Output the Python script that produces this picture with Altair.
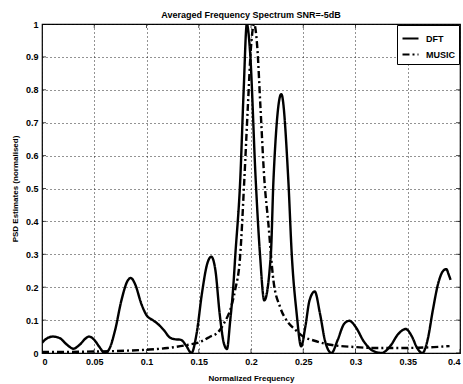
import altair as alt
import pandas as pd

# DFT curve (normalised PSD)
dft_f = [0.000, 0.005, 0.0105, 0.017, 0.024, 0.030, 0.036, 0.042, 0.045, 0.050,
         0.055, 0.060, 0.064, 0.070, 0.076, 0.082, 0.085, 0.089, 0.095, 0.100,
         0.106, 0.111, 0.117, 0.122, 0.127, 0.133, 0.138, 0.143, 0.148, 0.153,
         0.158, 0.162, 0.166, 0.170, 0.174, 0.177, 0.180, 0.183, 0.185, 0.1897,
         0.193, 0.196, 0.199, 0.2045, 0.2086, 0.2127, 0.219, 0.2215, 0.229, 0.2357,
         0.239, 0.2437, 0.248, 0.252, 0.256, 0.261, 0.266, 0.271, 0.277, 0.283,
         0.289, 0.294, 0.300, 0.308, 0.316, 0.325, 0.333, 0.341, 0.348, 0.354,
         0.359, 0.364, 0.369, 0.374, 0.379, 0.384, 0.387, 0.389, 0.391]
dft_v = [0.031, 0.045, 0.050, 0.045, 0.025, 0.013, 0.025, 0.045, 0.050, 0.040,
         0.018, 0.000, 0.010, 0.070, 0.160, 0.220, 0.228, 0.210, 0.150, 0.115,
         0.100, 0.088, 0.068, 0.048, 0.042, 0.040, 0.022, 0.000, 0.060, 0.180,
         0.270, 0.293, 0.250, 0.120, 0.030, 0.012, 0.095, 0.200, 0.298, 0.526,
         0.800, 1.000, 0.920, 0.526, 0.300, 0.160, 0.300, 0.526, 0.787, 0.526,
         0.300, 0.120, 0.020, 0.080, 0.160, 0.187, 0.120, 0.035, 0.000, 0.040,
         0.088, 0.098, 0.080, 0.035, 0.008, 0.000, 0.020, 0.058, 0.073, 0.050,
         0.015, 0.000, 0.040, 0.130, 0.210, 0.250, 0.255, 0.240, 0.222]

# MUSIC pseudo-spectrum (normalised)
music_f = [0.000, 0.040, 0.080, 0.100, 0.120, 0.140, 0.150, 0.160, 0.169, 0.175,
           0.180, 0.1847, 0.1895, 0.1936, 0.197, 0.200, 0.203, 0.206, 0.209, 0.2128,
           0.2166, 0.2214, 0.2278, 0.235, 0.242, 0.250, 0.260, 0.276, 0.300, 0.320,
           0.340, 0.360, 0.375, 0.390]
music_v = [0.003, 0.004, 0.007, 0.010, 0.015, 0.025, 0.032, 0.048, 0.065, 0.095,
           0.130, 0.190, 0.290, 0.526, 0.750, 0.930, 1.000, 0.930, 0.750, 0.526,
           0.394, 0.222, 0.140, 0.095, 0.072, 0.050, 0.038, 0.025, 0.018, 0.015,
           0.015, 0.016, 0.018, 0.021]

x_ticks = [0, 0.05, 0.1, 0.15, 0.2, 0.25, 0.3, 0.35, 0.4]
y_ticks = [0, 0.1, 0.2, 0.3, 0.4, 0.5, 0.6, 0.7, 0.8, 0.9, 1]
series = ["DFT", "MUSIC"]

df = pd.concat([
    pd.DataFrame({"f": dft_f, "v": dft_v, "s": "DFT", "o": range(len(dft_f))}),
    pd.DataFrame({"f": music_f, "v": music_v, "s": "MUSIC", "o": range(len(music_f))}),
])

FONT = "Liberation Sans"
W, H = 418, 329

xscale = alt.Scale(domain=[0, 0.4], nice=False, zero=False)
yscale = alt.Scale(domain=[0, 1], nice=False)

x_axis = alt.Axis(values=x_ticks, format="~g", title="Normalized Frequency",
                  grid=True, tickSize=0, labelPadding=4, titlePadding=8,
                  labelOverlap=False)
y_axis = alt.Axis(values=y_ticks, format="~g", title="PSD Estimates (normalised)",
                  grid=True, tickSize=0, labelPadding=4, titlePadding=6,
                  labelOverlap=False)

lines = alt.Chart(df).mark_line(strokeWidth=2.4, interpolate="monotone", clip=True).encode(
    x=alt.X("f:Q", scale=xscale, axis=x_axis),
    y=alt.Y("v:Q", scale=yscale, axis=y_axis),
    color=alt.Color("s:N", scale=alt.Scale(domain=series, range=["black", "black"]),
                    legend=alt.Legend(title=None, orient="top-right", offset=1,
                                      strokeColor="black", fillColor="white",
                                      padding=4, symbolType="stroke", symbolSize=256,
                                      symbolStrokeWidth=2.2, labelFontSize=9,
                                      labelFont=FONT, labelFontWeight="bold",
                                      rowPadding=1, cornerRadius=0, labelOffset=6)),
    strokeDash=alt.StrokeDash("s:N", scale=alt.Scale(domain=series, range=[[1, 0], [7, 3, 2, 3]]),
                              legend=alt.Legend(title=None)),
    order="o:Q",
)

xt = pd.DataFrame({"t": x_ticks})
yt = pd.DataFrame({"t": y_ticks})
tick_x_bot = alt.Chart(xt).mark_tick(color="black", size=8, thickness=1, clip=True).encode(
    x=alt.X("t:Q", scale=xscale, axis=x_axis), y=alt.value(H))
tick_x_top = alt.Chart(xt).mark_tick(color="black", size=8, thickness=1, clip=True).encode(
    x=alt.X("t:Q", scale=xscale, axis=x_axis), y=alt.value(0))
tick_y_left = alt.Chart(yt).mark_tick(color="black", size=8, thickness=1, clip=True).encode(
    y=alt.Y("t:Q", scale=yscale, axis=y_axis), x=alt.value(0))
tick_y_right = alt.Chart(yt).mark_tick(color="black", size=8, thickness=1, clip=True).encode(
    y=alt.Y("t:Q", scale=yscale, axis=y_axis), x=alt.value(W))

chart = alt.layer(lines, tick_x_bot, tick_x_top, tick_y_left, tick_y_right).properties(
    width=W, height=H,
    background="white",
    autosize=alt.AutoSizeParams(type="none"),
    padding={"left": 42, "top": 24, "right": 3, "bottom": 31},
    title=alt.TitleParams("Averaged Frequency Spectrum SNR=-5dB", fontSize=9, font=FONT,
                          fontWeight="bold", offset=0, color="black"),
).configure_view(stroke="black", strokeWidth=1.2).configure_axis(
    labelFont=FONT, titleFont=FONT, labelFontSize=9, titleFontSize=8,
    labelFontWeight="bold", titleFontWeight="bold", labelColor="black", titleColor="black",
    gridColor="#111", gridDash=[1, 3], gridWidth=1, gridOpacity=0.9, domain=False,
)

chart.save("out.html", embed_options={"renderer": "svg", "actions": False})
